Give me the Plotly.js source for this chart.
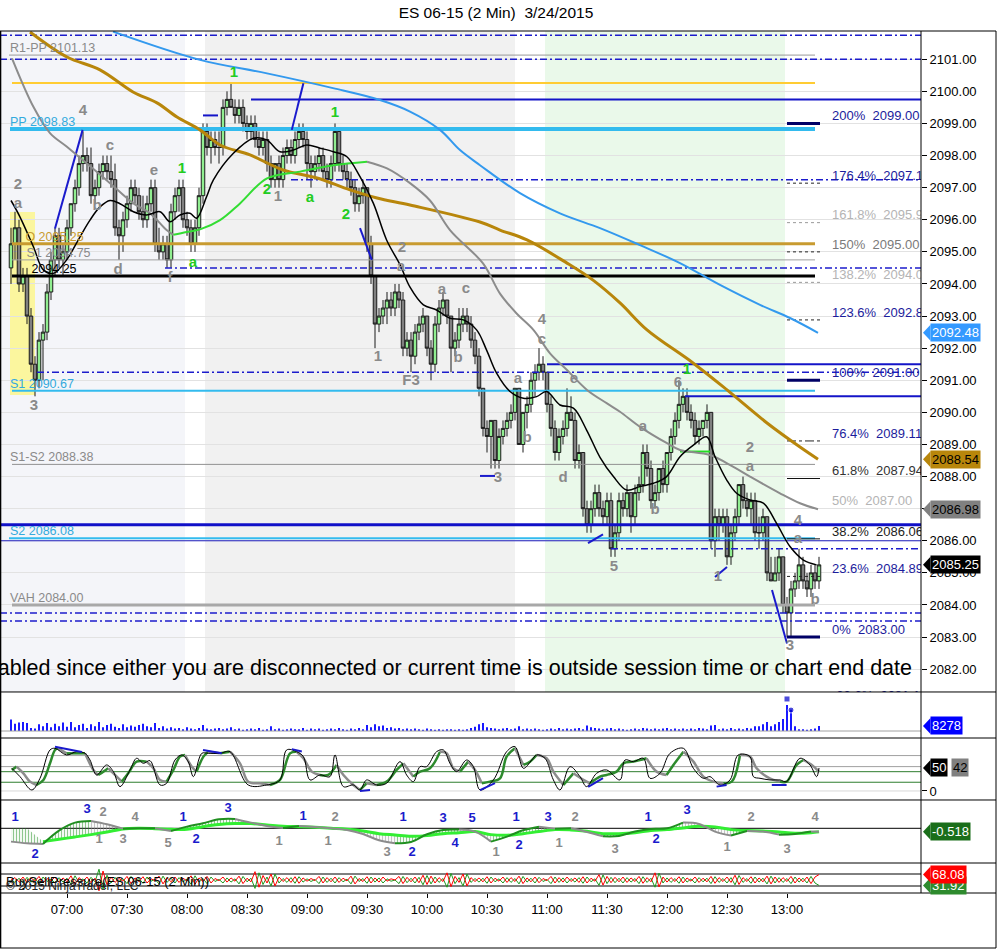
<!DOCTYPE html>
<html><head><meta charset="utf-8">
<script src="https://cdn.plot.ly/plotly-3.0.1.min.js"></script>
<style>html,body{margin:0;padding:0;background:#fff}#chart{width:997px;height:949px}</style>
</head><body><div id="chart"></div>
<script>
// ---------------- DATA ----------------
const sessionStart = '06:32';
const tickLabels = ['07:00','07:30','08:00','08:30','09:00','09:30','10:00','10:30','11:00','11:30','12:00','12:30','13:00'];

const O = [
2094.5,2095.25,2095.75,2094.0,2094.25,2093.0,2091.5,2091.0,2092.25,2092.5,
2093.75,2094.75,2095.5,2094.75,2095.0,2095.75,2096.5,2097.0,2097.75,2098.0,
2097.75,2096.75,2097.0,2097.5,2097.75,2097.5,2097.25,2095.75,2095.5,2096.0,
2096.5,2097.0,2096.75,2096.25,2096.0,2096.5,2097.0,2095.25,2095.0,2095.25,
2094.75,2096.25,2096.75,2097.0,2096.0,2095.75,2095.25,2095.75,2096.75,2098.75,
2098.25,2098.5,2098.25,2098.25,2099.5,2099.75,2099.5,2099.25,2099.5,2099.0,
2098.75,2099.0,2098.5,2098.25,2098.5,2097.75,2097.25,2097.75,2097.25,2098.0,
2098.25,2098.0,2098.5,2098.75,2098.5,2097.75,2097.5,2097.75,2098.0,2097.5,
2097.25,2097.75,2098.75,2097.75,2097.5,2097.25,2097.0,2096.5,2096.75,2097.0,
2095.25,2094.25,2092.75,2093.0,2093.25,2093.5,2093.25,2093.75,2093.5,2092.0,
2092.25,2091.75,2092.5,2092.75,2093.0,2092.0,2091.5,2092.75,2093.25,2093.5,
2093.0,2092.0,2092.25,2092.75,2093.0,2092.75,2092.25,2091.75,2090.75,2089.5,
2089.25,2089.75,2088.5,2089.25,2089.5,2089.75,2090.0,2090.75,2089.0,2090.0,
2090.25,2091.0,2091.25,2091.5,2091.25,2090.25,2089.5,2088.75,2089.25,2089.5,
2090.0,2089.75,2088.5,2088.75,2087.0,2086.5,2087.0,2087.5,2087.0,2086.75,
2087.25,2085.75,2086.25,2087.25,2087.0,2087.5,2086.75,2087.5,2087.75,2088.75,
2088.25,2087.25,2087.5,2088.25,2087.75,2088.75,2089.25,2089.75,2090.25,2090.5,
2090.0,2089.75,2089.25,2089.5,2089.75,2090.0,2086.0,2086.75,2086.5,2086.75,
2085.5,2086.25,2086.75,2087.75,2087.25,2087.0,2087.25,2086.25,2086.25,2086.75,
2085.0,2084.75,2085.0,2085.5,2084.0,2083.75,2084.5,2084.75,2085.25,2084.75,
2084.5,2085.0,2084.75];
const H = [
2095.75,2096.25,2096.0,2094.5,2094.5,2093.25,2091.75,2092.5,2092.75,2094.0,
2095.0,2095.75,2095.75,2095.25,2096.0,2096.5,2097.25,2098.0,2098.75,2098.25,
2098.25,2097.25,2097.75,2098.0,2098.0,2098.0,2097.75,2096.0,2096.25,2096.75,
2097.25,2097.25,2097.0,2096.75,2096.75,2097.25,2097.25,2095.75,2095.5,2095.5,
2096.5,2097.0,2097.25,2097.25,2096.25,2096.0,2096.0,2097.0,2099.0,2099.0,
2098.75,2098.75,2098.75,2099.75,2100.0,2100.25,2099.75,2099.75,2099.75,2099.25,
2099.25,2099.25,2098.75,2098.75,2098.75,2098.0,2097.75,2098.0,2098.25,2098.5,
2098.5,2098.75,2099.0,2099.0,2098.75,2098.0,2098.0,2098.25,2098.25,2097.75,
2098.0,2099.0,2098.75,2098.0,2097.75,2097.5,2097.25,2097.0,2097.25,2097.0,
2095.5,2094.25,2093.25,2093.5,2093.75,2093.75,2094.0,2094.0,2093.75,2092.5,
2092.5,2092.75,2093.0,2093.25,2093.0,2092.25,2093.0,2093.5,2093.75,2093.5,
2093.0,2092.5,2093.25,2093.25,2093.25,2093.0,2092.5,2092.0,2090.75,2089.75,
2089.75,2089.75,2089.5,2089.75,2090.0,2090.25,2090.75,2090.75,2090.0,2090.5,
2091.25,2091.5,2092.0,2091.75,2091.25,2090.5,2089.75,2089.5,2089.75,2090.75,
2090.5,2090.0,2089.0,2088.75,2087.25,2087.25,2087.75,2087.75,2087.25,2087.5,
2087.5,2086.5,2087.5,2087.5,2087.75,2087.5,2087.75,2088.0,2089.0,2089.0,
2088.5,2087.75,2088.25,2088.5,2088.75,2089.5,2090.0,2091.0,2090.75,2090.75,
2090.25,2090.0,2089.75,2089.75,2090.25,2090.0,2087.0,2087.0,2087.0,2087.0,
2086.5,2087.0,2087.75,2088.0,2087.5,2087.5,2087.5,2086.75,2087.0,2086.75,
2085.5,2085.5,2085.75,2085.5,2084.25,2084.75,2085.0,2085.75,2085.5,2085.0,
2085.25,2085.25,2085.5];
const L = [
2094.0,2094.75,2093.75,2093.75,2092.75,2091.25,2090.5,2090.75,2091.0,2092.25,
2093.5,2094.25,2094.5,2094.25,2094.75,2095.5,2096.25,2096.75,2097.5,2097.5,
2096.5,2096.5,2096.75,2097.25,2097.25,2097.0,2095.5,2094.75,2095.0,2095.75,
2096.25,2096.5,2096.0,2095.75,2095.75,2096.25,2095.0,2094.75,2094.75,2094.5,
2094.5,2096.0,2096.25,2095.75,2095.5,2095.0,2095.0,2095.5,2096.5,2098.0,
2097.75,2098.0,2097.75,2098.0,2099.25,2099.5,2099.0,2099.0,2098.75,2098.5,
2098.5,2098.25,2098.0,2098.0,2097.5,2097.0,2097.0,2097.0,2097.0,2097.75,
2097.75,2097.75,2098.25,2098.25,2097.25,2097.0,2097.25,2097.5,2097.25,2097.0,
2097.0,2097.5,2097.5,2097.25,2097.0,2096.75,2096.25,2096.25,2096.5,2095.0,
2094.0,2092.0,2092.5,2092.75,2092.75,2093.0,2093.0,2093.25,2091.75,2091.75,
2091.25,2091.5,2092.25,2092.5,2091.75,2091.0,2091.25,2092.5,2093.0,2092.75,
2091.25,2091.75,2092.0,2092.5,2092.5,2092.0,2091.5,2090.5,2089.25,2088.75,
2088.25,2088.25,2088.25,2089.0,2089.25,2089.5,2089.75,2089.0,2088.75,2089.5,
2090.0,2090.5,2091.0,2091.0,2090.0,2089.25,2088.5,2088.5,2089.0,2089.25,
2089.75,2088.25,2088.25,2086.75,2086.25,2086.25,2086.75,2086.75,2086.5,2086.5,
2085.5,2085.5,2086.0,2086.75,2086.75,2086.25,2086.5,2087.25,2087.5,2088.0,
2087.0,2087.0,2087.25,2087.5,2087.5,2088.5,2089.0,2089.5,2090.0,2089.75,
2089.5,2089.0,2089.0,2089.25,2089.5,2085.75,2085.5,2086.0,2086.25,2085.25,
2085.25,2086.0,2086.5,2087.0,2086.75,2086.5,2086.0,2085.75,2086.0,2084.75,
2084.75,2084.75,2084.75,2083.75,2083.0,2083.0,2084.25,2084.5,2084.5,2084.25,
2084.25,2084.5,2084.5];
const C = [
2095.25,2095.75,2094.0,2094.25,2093.0,2091.5,2091.0,2092.25,2092.5,2093.75,
2094.75,2095.5,2094.75,2095.0,2095.75,2096.5,2097.0,2097.75,2098.0,2097.75,
2096.75,2097.0,2097.5,2097.75,2097.5,2097.25,2095.75,2095.5,2096.0,2096.5,
2097.0,2096.75,2096.25,2096.0,2096.5,2097.0,2095.25,2095.0,2095.25,2094.75,
2096.25,2096.75,2097.0,2096.0,2095.75,2095.25,2095.75,2096.75,2098.75,2098.25,
2098.5,2098.25,2098.25,2099.5,2099.75,2099.5,2099.25,2099.5,2099.0,2098.75,
2099.0,2098.5,2098.25,2098.5,2097.75,2097.25,2097.75,2097.25,2098.0,2098.25,
2098.0,2098.5,2098.75,2098.5,2097.75,2097.5,2097.75,2098.0,2097.5,2097.25,
2097.75,2098.75,2097.75,2097.5,2097.25,2097.0,2096.5,2096.75,2097.0,2095.25,
2094.25,2092.75,2093.0,2093.25,2093.5,2093.25,2093.75,2093.5,2092.0,2092.25,
2091.75,2092.5,2092.75,2093.0,2092.0,2091.5,2092.75,2093.25,2093.5,2093.0,
2092.0,2092.25,2092.75,2093.0,2092.75,2092.25,2091.75,2090.75,2089.5,2089.25,
2089.75,2088.5,2089.25,2089.5,2089.75,2090.0,2090.75,2089.0,2090.0,2090.25,
2091.0,2091.25,2091.5,2091.25,2090.25,2089.5,2088.75,2089.25,2089.5,2090.0,
2089.75,2088.5,2088.75,2087.0,2086.5,2087.0,2087.5,2087.0,2086.75,2087.25,
2085.75,2086.25,2087.25,2087.0,2087.5,2086.75,2087.5,2087.75,2088.75,2088.25,
2087.25,2087.5,2088.25,2087.75,2088.75,2089.25,2089.75,2090.25,2090.5,2090.0,
2089.75,2089.25,2089.5,2089.75,2090.0,2086.0,2086.75,2086.5,2086.75,2085.5,
2086.25,2086.75,2087.75,2087.25,2087.0,2087.25,2086.25,2086.25,2086.75,2085.0,
2084.75,2085.0,2085.5,2084.0,2083.75,2084.5,2084.75,2085.25,2084.75,2084.5,
2085.0,2084.75,2085.25];

// volume (thousands of contracts)
const volume = [
19,12,14,15,13,5,4,11,8,13, 6,12,8,14,7,15,6,10,12,5, 11,8,15,6,10,12,7,5,11,6,
9,7,10,12,8,6,13,5,8,4, 6,4,5,3,6,4,3,5,10,4, 3,4,5,3,4,6,3,4,2,3,
4,3,5,2,3,8,3,4,2,3, 4,3,3,5,2,4,3,4,2,3, 4,3,5,3,2,4,3,5,3,10,
6,11,8,9,5,6,4,5,3,4, 3,4,3,2,4,3,2,3,2,3, 3,2,3,2,3,5,7,11,13,6,
5,4,3,4,5,3,4,8,3,4, 3,4,3,2,3,4,3,5,3,4, 3,4,5,3,9,6,5,4,3,4,
5,3,4,3,2,3,4,3,5,4, 3,4,3,4,5,3,4,3,4,3, 4,3,5,4,3,9,10,3,4,3,
5,3,4,3,5,4,8,8,11,15, 8,11,15,20,43,35,8,3,3,2, 3,4,8.278];
const volMarkI = [194, 195];
const volMarkV = [52.8, 34.6];

// moving averages (bar index, price)
const maBlueI = [25.5,47.25,64,80.5,92.25,99.75,107.25,112.25,117.25,127.25,137.25,147.25,157.25,167.25,177.25,187.25,194.75,201.75];
const maBlueP = [2101.86,2100.98,2100.56,2100.1,2099.73,2099.37,2098.8,2098.17,2097.7,2096.83,2096.2,2095.74,2095.21,2094.65,2093.97,2093.35,2092.94,2092.48];
const maGoldI = [4.75,14,22.25,30.5,36.5,41.5,47.25,52.25,59.75,68,76.5,84.75,91.5,99.75,117.25,122.25,129,139,145.5,152.25,159,170.5,179,189,197.25,201.75];
const maGoldP = [2101.85,2101.07,2100.67,2099.98,2099.64,2099.2,2098.8,2098.33,2098.02,2097.55,2097.3,2096.93,2096.68,2096.46,2095.93,2095.68,2095.37,2094.65,2094.12,2093.41,2092.57,2091.54,2090.7,2089.67,2088.92,2088.54];
const maMidI = [0.25,5.6,9.75,13.9,18.9,24.75,30.6,34.75,38.9,40.6,43.9,47.25,52.25,57.25,64,72.25,80.6,89,94,99.75,104.75,109.75,118,122.25,126.4,130.6,134.75,139,144,149,152.25,157.25,164,167.25,174.75,180.6,184.75,192.25,197.25,201.75];
const maMidP = [2101.03,2099.52,2098.7,2098.28,2097.76,2097.14,2096.51,2096.2,2095.68,2095.53,2095.62,2095.7,2095.99,2096.51,2097.29,2097.5,2097.7,2097.81,2097.6,2097.14,2096.6,2095.68,2094.64,2093.7,2093.08,2092.57,2091.84,2091.32,2090.7,2090.28,2090.02,2089.55,2089.04,2088.83,2088.67,2088.3,2088.0,2087.48,2087.17,2086.98];
const maFastI = [0,2.2,5.6,8.1,10.6,13.9,17.25,19.75,22.25,24.75,27.25,30.6,33.9,37.25,39.75,42.25,44.75,46.4,48.9,50.6,55.6,60.6,63.9,67.25,70.6,73.9,77.25,80.6,83.9,87.25,90.6,93.9,97.25,99.75,103.1,106.4,109.75,113.1,116.4,118.9,121.4,124.75,128.1,131.4,133.9,137.25,140.6,143.9,147.25,150.6,153.9,157.25,160.6,163.9,167.25,170.6,173.9,176,178.9,181.4,184.75,188.1,191.4,194.75,198.1,201.4];
const maFastP = [2096.6,2096.1,2095.16,2094.44,2094.33,2094.75,2095.47,2095.99,2096.4,2096.6,2096.5,2096.25,2096.15,2096.25,2095.94,2096.15,2096.2,2096.05,2096.72,2097.24,2098.07,2098.54,2098.49,2098.12,2098.17,2098.33,2098.23,2098.12,2097.97,2097.34,2096.51,2095.37,2094.6,2093.9,2093.35,2093.19,2092.93,2092.88,2092.57,2091.94,2091.22,2090.65,2090.44,2090.49,2090.65,2090.23,2090.13,2089.45,2088.6,2088.0,2087.58,2087.69,2087.79,2088.0,2088.62,2088.98,2089.24,2088.62,2087.9,2087.48,2087.27,2087.17,2086.54,2085.82,2085.4,2085.25];

// horizontal price levels
const levelPrice = [2101.75,2101.00,2101.13,2100.26,2099.75,2099.25,2098.83,2097.25,2095.25,2094.75,2094.50,2094.25,2091.50,2091.25,2090.67,2090.50,2088.38,2086.50,2086.08,2086.00,2085.75,2084.00,2083.75,2083.50];
const pivotText  = ['R1-PP 2101.13','PP 2098.83','O 2095.25','S1 2094.75','2094.25','S1 2090.67','S1-S2 2088.38','S2 2086.08','VAH 2084.00'];
const pivotPrice = [2101.13,2098.83,2095.25,2094.75,2094.25,2090.67,2088.38,2086.08,2084.00];

// fibonacci extension
const fibPct   = ['200%','176.4%','161.8%','150%','138.2%','123.6%','100%','76.4%','61.8%','50%','38.2%','23.6%','0%','-23.6%'];
const fibPrice = [2099.00,2097.14,2095.91,2095.00,2094.05,2092.88,2091.00,2089.11,2087.94,2087.00,2086.06,2084.89,2083.00,2081.14];

// wave swing lines (pairs of points)
const waveSegI = [[11,17.9],[70.2,73.1],[87.25,90.2],[117.25,121],[144.25,148],[176,179],[190.25,194]];
const waveSegP = [[2095.73,2098.8],[2098.8,2100.25],[2095.74,2094.75],[2088.02,2088.02],[2085.93,2086.2],[2084.87,2085.18],[2084.47,2082.8]];

// wave labels
const waveText = ['2','a','3','4','c','b','d','e','f','1','a','1','2','1','a','1','2','2','a','1','F3','a','c','b','3','4','c','a','b','e','d','5','a','b','6','1','2','a','1','4','a','b','3'];
const waveI = [1.75,1.75,5.75,18,24.75,21.5,26.75,35.75,39.75,42.75,45.5,55.75,64,66.75,74.75,81,83.75,97.75,97.5,91.75,100,107.75,113.75,111.75,121.75,132.75,132.75,126.75,129,140.75,138,150.75,158,161,166.75,169,184.75,184.75,176.75,196.75,196.75,201,194.75];
const waveP = [2097.08,2096.49,2090.2,2099.39,2098.3,2096.43,2094.44,2097.52,2094.19,2097.58,2094.66,2100.57,2096.93,2096.71,2096.68,2099.33,2096.15,2095.12,2094.53,2091.73,2090.98,2093.79,2093.82,2091.7,2087.96,2092.88,2092.25,2091.04,2089.2,2091.04,2087.96,2085.19,2089.54,2086.96,2090.92,2091.32,2088.89,2088.3,2084.87,2086.62,2086.06,2084.16,2082.7];
const waveGreen = [9,10,11,12,14,15,16,35];

// stochastics (bar index, value)
const stoDI = [0.2,1.4,3.1,4.75,6.4,8.1,9.75,11,11.8,13.9,16.4,18.5,20.6,21.8,23.1,24.3,26,27.7,29.3,31.4,33.9,35.6,37.25,38.9,40.6,42.25,43.5,45.2,46.4,48.1,49.3,52.25,54.75,57.25,59.3,62.25,64.75,67.25,69.75,71.4,73.1,75.2,77.25,79.3,81.4,83.1,85.6,87.25,88.9,91.4,93.9,96.4,98.1,100.6,102.25,104.75,107.25,108.9,110.6,112.25,114.3,116,117.7,119.75,122.25,123.9,126,128.1,129.75,131.4,133.9,135.6,138.1,140.6,143.1,144.75,147.25,148.9,151.4,153.1,155.6,158.9,161.4,163.9,165.6,168.1,170.6,173.1,175.6,178.1,180.2,182.25,184.75,186.4,188.9,190.6,192.25,193.9,196.4,198.1,200.2,202];
const stoDV = [45.7,52.9,38.4,20.3,13.1,24,60.2,89.2,92.8,81.9,81.9,81.9,45.7,34.8,42.1,49.3,34.8,20.3,38.4,63.8,63.8,49.3,24,20.3,45.7,74.7,78.3,52.9,42.1,74.7,85.5,81.9,85.5,60.2,20.3,16.7,13.1,24,81.9,85.5,71.1,42.1,34.8,34.8,56.6,34.8,13.1,2.2,16.7,13.1,20.3,45.7,60.2,31.2,42,49.3,85.5,81.9,49.3,42.1,63.8,45.7,16.7,20.3,27.6,74.7,92.8,56.6,63.8,78.3,71.1,42.1,13.1,38.4,24,16.7,31.2,34.8,42.1,60.2,63.8,71.1,42.1,34.8,56.6,85.5,63.8,31.2,20.3,16.7,20.3,78.3,74.7,49.3,31.2,24,20.3,20.3,56.6,67.4,56.6,42];
const stoKI = [0.2,2.25,5.2,7.25,9.75,11,13.9,16.4,18.5,19.75,21.4,23.9,25.6,27.25,29.75,31.4,33.1,34.75,37.25,38.9,41,42.7,44.3,45.6,47.7,49.3,52.25,54.75,59.3,63.9,67.25,68.9,71.4,73.1,74.75,77.25,79.75,81,83.1,85.6,87.25,88.9,91.4,93.9,97.25,98.9,100.6,102.25,103.9,106.4,108.1,109.75,111.4,113.9,115.6,117.25,120.6,123.9,126,128.1,130.2,131.4,133.5,135.6,137.25,139.75,142.25,143.9,146.4,148.9,152.25,153.5,155.6,158.1,159.75,162.25,164.75,168.1,170.6,173.1,174.75,177.25,179.75,181.8,184.75,185.6,187.25,189.75,192.25,193.9,197.25,199.75,201.4,202];
const stoKV = [49.3,31.2,2.2,27.6,89.2,92.8,78.3,85.5,81.9,67.4,34.8,56.6,42.1,9.5,45.7,71.1,60.2,66,13.1,16.7,67.4,78.3,63.8,31.2,81.9,81.9,81.9,85.5,13.1,13.1,24,89.2,85.5,74.7,24,34.8,31.2,78.3,9.5,13.1,2.2,24,13.1,16.7,63.8,34.8,20.3,52.9,52.9,85.5,89.2,60.2,42.1,67.4,52.9,2.2,24,85.5,96.4,49.3,67.4,78.3,71.1,24,2.2,52.9,31.2,9.5,38.4,45.7,24,67.4,63.8,71.1,27.6,38.4,81.9,92.8,49.3,27.6,31.2,13.1,24,78.3,74.7,31.2,27.6,24,24,20.3,71.1,56.6,31.2,50];
const stoLevels = [77,53,42,19,0];
const stoDivI = [[11,17.7],[48,52.7],[70.2,72.7],[87.25,89.75],[117.25,121],[144.3,148],[176.4,178.9],[190.2,193.9]];
const stoDivV = [[96,85],[89,82],[91,86],[0,2],[2,17],[9,28],[9.5,13],[13,13]];

// MACD-type oscillator sampled every 4 bars
const macdI = [0,4,8,12,16,20,24,28,32,36,40,44,48,52,56,60,64,68,72,76,80,84,88,92,96,100,104,108,112,116,120,124,128,132,136,140,144,148,152,156,160,164,168,172,176,180,184,188,192,196,200,202];
const macdV = [-2.02,-2.27,-2.37,-0.35,0.86,1.11,0.61,-0.05,0,0,-0.4,0.25,0.76,1.36,1.41,0.86,0.35,0.05,0.35,0.2,0,-0.25,-0.86,-1.82,-2.27,-2.07,-0.91,-0.25,-0.2,-0.5,-2.02,-1.26,-0.3,0.25,-0.05,0,-0.56,-1.21,-1.16,-0.5,-0.1,0,0.86,0.66,-0.5,-1.1,-0.4,-0.5,-0.96,-0.86,-0.5,-0.51];
const signalV = [null,null,-2.02,-1.67,-1.31,-0.96,-0.56,-0.1,0,-0.05,-0.15,-0.15,0.25,0.56,0.71,0.71,0.51,0.3,0.25,0.15,0,-0.15,-0.4,-0.81,-1.01,-1.21,-1.11,-0.81,-0.66,-0.5,-0.96,-1.06,-0.81,-0.5,-0.2,-0.25,-0.45,-0.81,-0.81,-0.66,-0.35,-0.2,0.05,0.3,0.2,-0.2,-0.35,-0.4,-0.56,-0.76,-0.66,-0.518];
const macdLabText = ['1','2','3','2','1','3','4','5','1','2','3','1','1','2','1','3','1','2','3','5','4','1','1','2','3','2','1','3','1','2','3','2','1','3','4'];
const macdLabBlue = [1,1,1,0,0,0,0,0,1,1,1,0,1,0,0,0,1,1,1,1,1,0,1,1,1,0,0,0,1,1,1,0,0,0,0];
const macdLabI = [1,6,19,23,22,28,31,39.25,43,46.25,54.25,67,73,81,79.25,94,98,100.25,108,115.25,111,121.25,126.25,127,134.25,141,137,151,159.25,161.25,169,185,179,194,201];
const macdLabV = [1.56,-4.05,2.77,2.3,-1.77,-1.77,1.56,-2.38,1.56,-1.77,2.92,-2.08,1.71,1.56,-2.08,-3.74,1.56,-3.74,1.41,1.41,-2.38,-3.74,1.56,-2.68,1.56,1.56,-2.38,-3.29,1.56,-1.77,2.62,1.56,-2.98,-3.29,1.56];

// buy / sell pressure (buy %)
const buyPct = [
50,58,44,60,41,57,46,62,40,55, 47,60,42,57,44,64,36,58,46,60, 41,56,14,80,34,60,42,55,46,62,
38,57,45,61,40,54,48,63,37,58, 44,60,42,56,47,64,36,57,45,62, 40,55,48,60,43,57,46,63,38,56,
44,78,26,65,40,70,30,60,45,58, 42,61,39,57,46,55,48,62,40,58, 44,60,42,56,47,63,37,55,45,61,
40,57,43,60,46,54,50,62,38,59, 44,60,41,66,35,63,40,58,45,74, 28,62,42,70,30,58,45,57,44,61,
40,56,46,60,42,58,45,63,38,57, 44,60,41,55,48,62,40,58,43,60, 45,57,42,61,40,56,46,68,33,62,
41,59,44,60,42,57,45,62,39,58, 44,74,27,60,43,58,45,61,40,57, 46,60,42,56,44,62,39,58,45,60,
42,66,35,58,45,61,40,57,44,63, 37,60,42,58,45,62,40,57,44,60, 38,60,68.08];

// last-value flags
const priceFlagV  = [2092.48,2088.54,2086.98,2085.25];
const lastVolume = 8278, lastStoK = 50, lastStoD = 42, lastSignal = -0.518, lastBuy = 68.08, lastSell = 31.92;

// ---------------- CHART ----------------
const FONT = '"Liberation Sans", Arial, sans-serif';
const X = O.map((_, k) => k);
const toMin = t => { const [h, m] = t.split(':').map(Number); return h * 60 + m; };
const tickVals = tickLabels.map(t => (toMin(t) - toMin(sessionStart)) / 2);
const XMIN = -2.75, XMAX = 227.5, PIVEND = 201, FIB0 = 194, FIB1 = 202.25;

const traces = [];
const none = {hoverinfo: 'skip', showlegend: false};
function seg(yax, xs, ys, color, width, dash, shape) {
  traces.push(Object.assign({type: 'scatter', mode: 'lines', x: xs, y: ys, xaxis: 'x', yaxis: yax,
    line: {color, width, dash: dash || 'solid', shape: shape || 'linear'}}, none));
}
const DD = '7px,3px,2px,3px';
const lvStyle = [
  ['#1c1ccc',1.5,DD,XMIN,XMAX], ['#1c1ccc',1.5,DD,XMIN,XMAX], ['#9a9a9a',1,'solid',-0.5,PIVEND],
  ['#ffcc33',2,'solid',0.25,PIVEND], ['#1414c8',2,'solid',60,XMAX], ['#1414c8',2,'solid',48,51.75],
  ['#33bbee',4,'solid',-0.25,PIVEND], ['#1c1ccc',1.5,DD,70,XMAX], ['#c89b30',3,'solid',0.25,PIVEND],
  ['#a0a0a0',1,'solid',0.25,PIVEND], ['#1c1ccc',1.5,DD,38.5,XMAX], ['#000000',3,'solid',0.25,PIVEND],
  ['#1414c8',2,'solid',134,XMAX], ['#1c1ccc',1.5,DD,6.5,XMAX], ['#33bbee',2,'solid',0.25,PIVEND],
  ['#1414c8',2,'solid',168.5,XMAX], ['#909090',1,'solid',0.25,PIVEND], ['#1010c8',3,'solid',XMIN,XMAX],
  ['#33bbee',2,'solid',-0.5,PIVEND], ['#2020c0',1,'solid',XMIN,XMAX], ['#1c1ccc',1.5,DD,150,XMAX],
  ['#a8a8a8',3,'solid',0.25,PIVEND], ['#1c1ccc',1.5,DD,XMIN,XMAX], ['#1c1ccc',1.5,DD,XMIN,XMAX]];
levelPrice.forEach((p, k) => { const s = lvStyle[k]; seg('y', [s[3], s[4]], [p, p], s[0], s[1], s[2]); });

// fib marker ticks near right edge
const fibMark = {0:['#000066',3,'solid'],1:['#222',1,'dot'],2:['#999',1,'dot'],3:['#222',1,'dot'],4:['#999',1,'dot'],
  5:['#222',1,'dot'],6:['#000066',3,'solid'],7:['#222',1,'dashdot'],8:['#111',1,'solid'],10:['#111',1,'solid'],11:['#222',1,'dot'],12:['#000066',3,'solid']};
Object.keys(fibMark).forEach(k => { const s = fibMark[k]; seg('y', [FIB0, FIB1], [fibPrice[k], fibPrice[k]], s[0], s[1], s[2]); });

// wave swing lines
waveSegI.forEach((xs, k) => seg('y', xs, waveSegP[k], '#1a1acc', 2));
seg('y', [167.25, 174.75], [2088.78, 2088.78], '#22dd22', 2);

// candles
traces.push(Object.assign({type: 'candlestick', x: X, open: O, high: H, low: L, close: C, xaxis: 'x', yaxis: 'y',
  increasing: {line: {color: '#1a1a1a', width: 1}, fillcolor: '#90ee90'},
  decreasing: {line: {color: '#1a1a1a', width: 1}, fillcolor: '#808080'}, whiskerwidth: 0}, none));

// slope-coloured lines
function runs(xs, ys) {
  const out = []; let cur = null;
  for (let k = 0; k < xs.length - 1; k++) {
    if (ys[k] == null || ys[k + 1] == null) { cur = null; continue; }
    const up = ys[k + 1] >= ys[k];
    if (!cur || cur.up !== up) { cur = {up, idx: [k]}; out.push(cur); }
    cur.idx.push(k + 1);
  }
  return out;
}
function slopeLine(yax, xs, ys, upC, dnC, w, shape) {
  runs(xs, ys).forEach(r => seg(yax, r.idx.map(k => xs[k]), r.idx.map(k => ys[k]), r.up ? upC : dnC, w, 'solid', shape));
}
seg('y', maGoldI, maGoldP, '#b8860b', 3, 'solid', 'spline');
seg('y', maBlueI, maBlueP, '#3399ee', 2, 'solid', 'spline');
slopeLine('y', maMidI, maMidP, '#33dd33', '#8c8c8c', 2, 'spline');
seg('y', maFastI, maFastP, '#000000', 1.5, 'solid', 'spline');

// text on main panel
function txt(yax, xs, ys, texts, colors, size, pos, weight) {
  traces.push(Object.assign({type: 'scatter', mode: 'text', x: xs, y: ys, text: texts, xaxis: 'x', yaxis: yax,
    textposition: pos, cliponaxis: true,
    textfont: {family: FONT, size, color: colors, weight: weight || 'normal'}}, none));
}
const pivColors = ['#8a8a8a','#33aadd','#c89b30','#8a8a8a','#000000','#33aadd','#8a8a8a','#33aadd','#8a8a8a'];
const pivX = [-0.25,-0.25,3.6,3.9,5.1,-0.25,-0.25,-0.25,-0.25];
txt('y', pivX, pivotPrice, pivotText, pivColors, 12.5, 'top right');
const fibCol = ['#1c1c9c','#1c1c9c','#b4b4b4','#7a7a7a','#b4b4b4','#1c1c9c','#1c1c9c','#1c1c9c','#333333','#b4b4b4','#222222','#1c1c9c','#1c1c9c','#1c1c9c'];
const nFib = fibPct.length - 1;
const fibTxt = fibPct.map((p, k) => p + '\u00a0\u00a0' + fibPrice[k].toFixed(2));
txt('y', fibPct.slice(0, nFib).map(() => 205.25), fibPrice.slice(0, nFib), fibTxt.slice(0, nFib), fibCol.slice(0, nFib), 13, 'top right');
txt('y', [205.25], [fibPrice[nFib]], [fibTxt[nFib]], fibCol[nFib], 13, 'middle right');
txt('y', waveI, waveP, waveText, waveText.map((_, k) => waveGreen.includes(k) ? '#22cc22' : '#8a8a8a'), 15, 'middle center', 'bold');
txt('y', [225.25], [2082.0], ['abled since either you are disconnected or current time is outside session time or chart end date'], '#000', 21.5, 'middle left');

// volume
traces.push(Object.assign({type: 'bar', x: X, y: volume, xaxis: 'x', yaxis: 'y2', width: 0.45, marker: {color: '#0000ff', line: {width: 0}}}, none));
traces.push(Object.assign({type: 'scatter', mode: 'markers', x: volMarkI, y: volMarkV, xaxis: 'x', yaxis: 'y2',
  marker: {color: '#0000cc', size: [6, 6], symbol: ['square', 'circle']}}, none));
seg('y2', [XMIN, XMAX], [0, 0], '#a0a0a0', 1);

// stochastics
const stoLvCol = ['#a0a0a0','#a0a0a0','#2e7d2e','#2e7d2e','#d8d8d8'];
stoLevels.forEach((v, k) => seg('y3', [XMIN, XMAX], [v, v], stoLvCol[k], 1));
slopeLine('y3', stoDI, stoDV, '#2d8a2d', '#8c8c8c', 2.5, 'spline');
seg('y3', stoKI, stoKV, '#000000', 1, 'solid', 'spline');
stoDivI.forEach((xs, k) => seg('y3', xs, stoDivV[k], '#1a1acc', 2));

// MACD panel
seg('y4', [XMIN, XMAX], [0, 0], '#000000', 1);
runs(macdI, macdV).forEach(r => {
  const xs = r.idx.map(k => macdI[k]);
  const top = r.idx.map(k => macdV[k]);
  const noSig = r.idx.some(k => signalV[k] == null);
  const base = r.idx.map(k => signalV[k] == null ? 0 : signalV[k]);
  const col = (r.up || noSig) ? '#1f8f1f' : '#8c8c8c';
  traces.push(Object.assign({type: 'scatter', mode: 'none', xaxis: 'x', yaxis: 'y4',
    x: xs.concat(xs.slice().reverse()), y: top.concat(base.slice().reverse()), fill: 'toself',
    fillcolor: 'rgba(0,0,0,0)',
    fillpattern: {shape: '|', fgcolor: col, bgcolor: 'rgba(0,0,0,0)', size: 3, solidity: 0.4, fillmode: 'overlay'}}, none));
});
seg('y4', macdI, signalV, '#33ee33', 3, 'solid', 'spline');
slopeLine('y4', macdI, macdV, '#1f8f1f', '#8c8c8c', 2, 'spline');
txt('y4', macdLabI, macdLabV, macdLabText, macdLabBlue.map(b => b ? '#1a1acc' : '#8a8a8a'), 13, 'middle center', 'bold');

// buy/sell pressure
seg('y5', [XMIN, XMAX], [70, 70], '#000', 1);
seg('y5', [XMIN, XMAX], [30, 30], '#000', 1);
seg('y5', X, buyPct.map(v => 100 - v), '#1f9a1f', 1);
seg('y5', X, buyPct, '#ff0000', 1);

// ---------------- LAYOUT ----------------
const D = {main: [0.2332, 1], vol: [0.1798, 0.2332], sto: [0.1079, 0.1798], macd: [0.0348, 0.1079], bsp: [0, 0.0348]};
const RIGHT = 996 / 921, BOTTOM = -55 / 862;
const shapes = [];
const bg = [[XMIN, 43.5, '#f4f5f9'], [48.5, 126, '#f1f1f1'], [133.5, 193.5, '#eaf9ea']];
bg.forEach(b => shapes.push({type: 'rect', xref: 'x', yref: 'y domain', x0: b[0], x1: b[1], y0: 0, y1: 1, fillcolor: b[2], line: {width: 0}, layer: 'below'}));
shapes.push({type: 'rect', xref: 'x', yref: 'y', x0: -0.25, x1: 6, y0: 2090.54, y1: 2096.24, fillcolor: '#fbf69e', line: {width: 0}, layer: 'below'});
[1, D.vol[1], D.sto[1], D.macd[1], D.bsp[1], 0, BOTTOM].forEach(y => shapes.push({type: 'line', xref: 'paper', yref: 'paper', x0: 0, x1: RIGHT, y0: y, y1: y, line: {color: '#000', width: 1}}));
shapes.push({type: 'line', xref: 'paper', yref: 'paper', x0: 0.0006, x1: 0.0006, y0: BOTTOM, y1: 1, line: {color: '#000', width: 1.5}});
shapes.push({type: 'line', xref: 'paper', yref: 'paper', x0: 1, x1: 1, y0: 0, y1: 1, line: {color: '#000', width: 1}});
shapes.push({type: 'line', xref: 'paper', yref: 'paper', x0: RIGHT, x1: RIGHT, y0: BOTTOM, y1: 1, line: {color: '#000', width: 1}});

const annotations = [];
function flag(yref, val, text, bgc, fg, shift, arrow) {
  annotations.push({xref: 'paper', yref, x: 1, y: val, xanchor: 'left', yanchor: 'middle', xshift: shift, text,
    showarrow: false, bgcolor: bgc, borderpad: 1, font: {family: FONT, size: 13, color: fg}});
  if (arrow) shapes.push({type: 'path', xref: 'paper', yref, xsizemode: 'pixel', ysizemode: 'pixel', xanchor: 1, yanchor: val,
    path: 'M 2,0 L 9.5,8 L 9.5,-8 Z', fillcolor: bgc, line: {width: 0}});
}
const pfBg = ['#3399ff', '#b8860b', '#808080', '#000000'], pfFg = ['#ffffff', '#000000', '#000000', '#ffffff'];
priceFlagV.forEach((v, k) => flag('y', v, v.toFixed(2), pfBg[k], pfFg[k], 9, true));
flag('y2', lastVolume / 1000, String(lastVolume), '#0000ff', '#ffffff', 9, true);
flag('y3', lastStoK, String(lastStoK), '#000000', '#ffffff', 9, true);
flag('y3', lastStoK, String(lastStoD), '#808080', '#000000', 30, false);
flag('y4', lastSignal, lastSignal.toFixed(3), '#1a6e1a', '#ffffff', 9, true);
flag('y5', lastSell, lastSell.toFixed(2), '#2e8b2e', '#ffffff', 9, true);
flag('y5', lastBuy, lastBuy.toFixed(2), '#ff0000', '#ffffff', 9, true);
annotations.push({xref: 'paper', yref: 'paper', x: 0.004, y: 0.0139, xanchor: 'left', yanchor: 'middle', showarrow: false,
  text: 'BuySellPressure(ES 06-15 (2 Min))', font: {family: FONT, size: 13, color: '#000'}});
annotations.push({xref: 'paper', yref: 'paper', x: 0.004, y: 0.0081, xanchor: 'left', yanchor: 'middle', showarrow: false,
  text: '\u00a9 2015 NinjaTrader, LLC', font: {family: FONT, size: 12, color: '#222'}});

// price-axis ticks: the label hidden under the 2086.98 flag is left blank
const priceTicks = [], priceTickText = [];
for (let p = 2082; p <= 2101; p++) { priceTicks.push(p); priceTickText.push(p === 2087 ? '' : p.toFixed(2)); }

const yBase = {showgrid: false, zeroline: false, fixedrange: true, anchor: 'x', showline: false};
const layout = {
  width: 997, height: 949, margin: {l: 0, r: 76, t: 31, b: 56, pad: 0},
  paper_bgcolor: '#ffffff', plot_bgcolor: '#ffffff', showlegend: false, hovermode: false,
  boxgap: 0.12, boxgroupgap: 0,
  font: {family: FONT, size: 13, color: '#000'},
  title: {text: 'ES 06-15 (2 Min)\u00a0 3/24/2015', x: 0.4975, xref: 'container', xanchor: 'center',
    y: 1 - 13 / 949, yref: 'container', yanchor: 'middle', font: {family: FONT, size: 15.5, color: '#000'}},
  xaxis: {range: [XMIN, XMAX], anchor: 'y5', tickvals: tickVals, ticktext: tickLabels, ticks: 'outside', ticklen: 4,
    tickcolor: '#000', showgrid: false, zeroline: false, showline: false, fixedrange: true,
    rangeslider: {visible: false}, tickfont: {family: FONT, size: 13, color: '#000'}},
  yaxis: Object.assign({}, yBase, {domain: D.main, range: [2081.29, 2101.88], side: 'right',
    tickvals: priceTicks, ticktext: priceTickText, ticks: 'outside', ticklen: 5, tickcolor: '#000', showgrid: true, gridcolor: '#e2e2e2',
    tickfont: {family: FONT, size: 13, color: '#000'}}),
  yaxis2: Object.assign({}, yBase, {domain: D.vol, range: [-11.55, 64.35], showticklabels: false}),
  yaxis3: Object.assign({}, yBase, {domain: D.sto, range: [-19.6, 115.2], side: 'right', tickvals: [0], ticktext: ['0'],
    ticks: 'outside', ticklen: 5, tickcolor: '#000', tickfont: {family: FONT, size: 13, color: '#000'}}),
  yaxis4: Object.assign({}, yBase, {domain: D.macd, range: [-5.26, 4.29], showticklabels: false}),
  yaxis5: Object.assign({}, yBase, {domain: D.bsp, range: [6.7, 106.7], showticklabels: false}),
  shapes, annotations
};
Plotly.newPlot('chart', traces, layout, {displayModeBar: false, staticPlot: true});
</script></body></html>
